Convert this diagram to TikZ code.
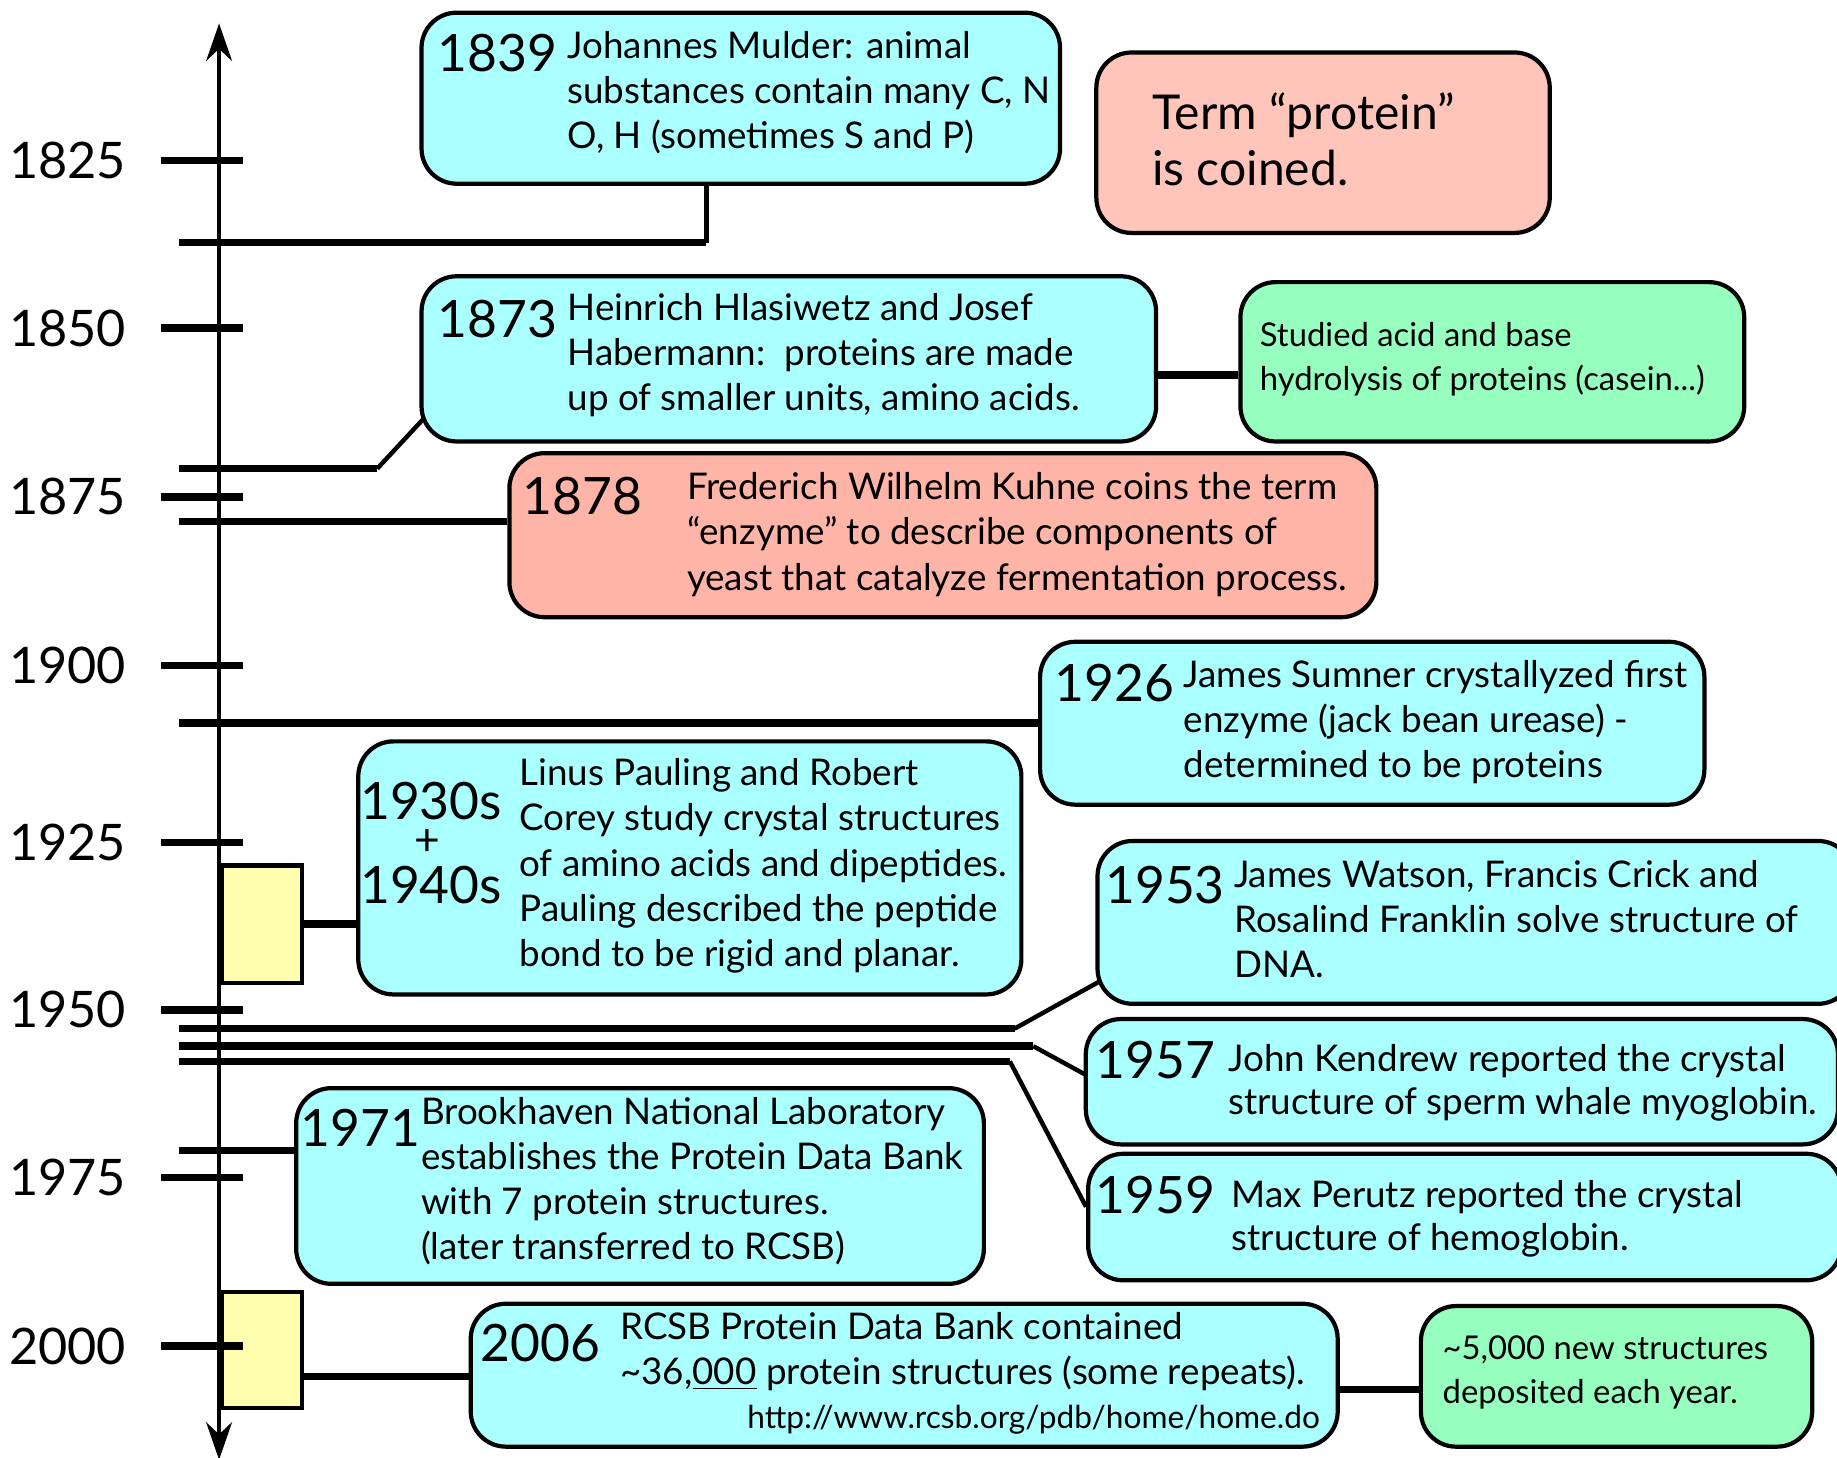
\documentclass[tikz,border=0pt]{standalone}
\usepackage{fontspec}
\setmainfont{Lato}
\usetikzlibrary{arrows.meta}
\definecolor{cyanbox}{RGB}{170,255,255}
\definecolor{pinkbox}{RGB}{255,196,186}
\definecolor{salmonbox}{RGB}{255,180,168}
\definecolor{greenbox}{RGB}{150,255,192}
\definecolor{yellowbox}{RGB}{255,255,175}
\newcommand\mkbox[6]{\node[evbox,#6,minimum width={(#4-#2)*0.5pt},minimum height={(#5-#3)*0.5pt}] (#1) at (#2,#3) {};}
\begin{document}
\begin{tikzpicture}[x=0.5pt,y=-0.5pt,
  evbox/.style={draw=black,line width=1.8pt,rounded corners=15pt,rectangle,inner sep=0pt,anchor=north west},
  cyanfill/.style={fill=cyanbox},
  pinkfill/.style={fill=pinkbox},
  salmonfill/.style={fill=salmonbox},
  greenfill/.style={fill=greenbox},
  yrect/.style={draw=black,line width=1.8pt,fill=yellowbox,rectangle,inner sep=0pt,anchor=north west},
  hline/.style={line width=3.2pt},
  dline/.style={line width=1.9pt},
  tickline/.style={line width=3.2pt},
  axis/.style={line width=2pt,{Stealth[length=16pt,width=11pt]}-{Stealth[length=16pt,width=11pt]}},
  txt/.style={font=\fontsize{15.7}{19.3}\selectfont,align=left,inner sep=0pt,anchor=north west},
  smalltxt/.style={font=\fontsize{14}{18.5}\selectfont,align=left,inner sep=0pt,anchor=north west},
  bigtxt/.style={font=\fontsize{20.5}{24}\selectfont,align=left,inner sep=0pt,anchor=north west},
  year/.style={font=\fontsize{22}{24}\selectfont,inner sep=0pt,anchor=west},
  axlabel/.style={font=\fontsize{21.5}{24}\selectfont,inner sep=0pt,anchor=east},
]
\useasboundingbox (0,0) rectangle (1568,1244);

% ---- event line end points ----
\coordinate (s1839) at (153,207); \coordinate (e1839) at (603,155);
\coordinate (s1873) at (153,400); \coordinate (k1873) at (322,400); \coordinate (e1873) at (361,358);
\coordinate (s1878) at (153,445);
\coordinate (s1926) at (153,617);
\coordinate (s1953) at (153,878); \coordinate (k1953) at (866,878); \coordinate (e1953) at (938,838);
\coordinate (s1957) at (153,893); \coordinate (k1957) at (882,893); \coordinate (e1957) at (926,917);
\coordinate (s1959) at (153,906); \coordinate (k1959) at (862,906); \coordinate (e1959) at (927,1030);
\coordinate (s1971) at (153,982);

% boxes
\mkbox{b1839}{358}{9}{903}{155}{cyanfill}
\mkbox{bterm}{934}{43}{1321}{197}{pinkfill}
\mkbox{b1873}{358}{234}{985}{375}{cyanfill}
\mkbox{g1}{1057}{239}{1487}{375}{greenfill}
\mkbox{b1878}{433}{385}{1173}{525}{salmonfill}
\mkbox{b1926}{886}{546}{1453}{685}{cyanfill}
\mkbox{b1930}{304}{631}{870}{847}{cyanfill}
\mkbox{b1953}{935}{716}{1580}{855}{cyanfill}
\mkbox{b1957}{925}{868}{1567}{975}{cyanfill}
\mkbox{b1959}{927}{983}{1570}{1091}{cyanfill}
\mkbox{b1971}{251}{927}{838}{1094}{cyanfill}
\mkbox{b2006}{400}{1111}{1140}{1233}{cyanfill}
\mkbox{g2}{1211}{1113}{1545}{1233}{greenfill}

\node[yrect,minimum width={68*0.5pt},minimum height={100*0.5pt}] (y1) at (188,737) {};
\node[yrect,minimum width={68*0.5pt},minimum height={99*0.5pt}] (y2) at (188,1101) {};
\coordinate (c2006) at (256,1175);
\coordinate (c1873g) at (985,320);
\coordinate (c2006g) at (1140,1186);

% connectors
\draw[hline] (s1839) -- (s1839 -| e1839);
\draw[dline] (s1839 -| e1839) -- (e1839);
\draw[hline] (s1873) -- (k1873);
\draw[dline] (k1873) -- (e1873);
\draw[hline] (s1878) -- (s1878 -| b1878.west);
\draw[hline] (s1926) -- (s1926 -| b1926.west);
\draw[hline] (s1953) -- (k1953);
\draw[dline] (k1953) -- (e1953);
\draw[hline] (s1957) -- (k1957);
\draw[dline] (k1957) -- (e1957);
\draw[hline] (s1959) -- (k1959);
\draw[dline] (k1959) -- (e1959);
\draw[hline] (s1971) -- (s1971 -| b1971.west);
\draw[hline] (y1.east) -- (y1.east -| b1930.west);
\draw[hline] (c2006) -- (c2006 -| b2006.west);
\draw[hline] (c1873g) -- (c1873g -| g1.west);
\draw[hline] (c2006g) -- (c2006g -| g2.west);

% ticks and labels
\foreach \yr/\yy in {1825/137,1850/280,1875/424,1900/568,1925/719,1950/862,1975/1005,2000/1149}{
  \coordinate (tk\yr) at (137,\yy);
  \draw[tickline] (tk\yr) -- ++(70,0);
  \node[axlabel] (lab\yr) at (108,\yy) {\yr};
}

% axis
\coordinate (axtop) at (187,20);
\coordinate (axbot) at (187,1246);
\draw[axis] (axbot) -- (axtop);

% texts
\node[year] (y1839) at (373,45) {1839};
\node[txt] (t1839) at (484,26) {Johannes Mulder: animal\\substances contain many C, N\\O, H (sometimes S and P)};

\node[bigtxt] (tterm) at (983,79) {Term “protein”\\is coined.};

\node[year] (y1873) at (373,272) {1873};
\node[txt] (t1873) at (484,250) {Heinrich Hlasiwetz and Josef\\Habermann:\ \ proteins are made\\up of smaller units, amino acids.};

\node[smalltxt] (tg1) at (1075,275) {Studied acid and base\\hydrolysis of proteins (casein...)};

\node[year] (y1878) at (446,423) {1878};
\node[txt] (t1878) at (586,403) {Frederich Wilhelm Kuhne coins the term\\“enzyme” to describe components of\\yeast that catalyze fermentation process.};

\node[year] (y1926) at (900,583) {1926};
\node[txt] (t1926) at (1010,563) {James Sumner crystallyzed first\\enzyme (jack bean urease) -\\determined to be proteins};

\node[year] (y1930) at (307,684) {1930s};
\node[year,anchor=center,font=\fontsize{19}{20}\selectfont] (yplus) at (365,719) {+};
\node[year] (y1940) at (307,755) {1940s};
\node[txt] (t1930) at (443,647) {Linus Pauling and Robert\\Corey study crystal structures\\of amino acids and dipeptides.\\Pauling described the peptide\\bond to be rigid and planar.};

\node[year] (y1953) at (943,755) {1953};
\node[txt] (t1953) at (1053,734) {James Watson, Francis Crick and\\Rosalind Franklin solve structure of\\DNA.};

\node[year] (y1957) at (935,905) {1957};
\node[txt,font=\fontsize{15.7}{18.5}\selectfont] (t1957) at (1048,891) {John Kendrew reported the crystal\\structure of sperm whale myoglobin.};

\node[year] (y1959) at (935,1020) {1959};
\node[txt,font=\fontsize{15.7}{18.5}\selectfont] (t1959) at (1051,1007) {Max Perutz reported the crystal\\structure of hemoglobin.};

\node[year] (y1971) at (256,963) {1971};
\node[txt] (t1971) at (359,936) {Brookhaven National Laboratory\\establishes the Protein Data Bank\\with 7 protein structures.\\(later transferred to RCSB)};

\node[year] (y2006) at (410,1146) {2006};
\node[txt] (t2006) at (529,1120) {RCSB Protein Data Bank contained\\\textasciitilde36,\underline{000} protein structures (some repeats).};
\node[font=\fontsize{13.5}{14}\selectfont,inner sep=0pt,anchor=base east] (url) at (1127,1219) {http://www.rcsb.org/pdb/home/home.do};

\node[smalltxt] (tg2) at (1231,1140) {\textasciitilde5,000 new structures\\deposited each year.};
\end{tikzpicture}
\end{document}
